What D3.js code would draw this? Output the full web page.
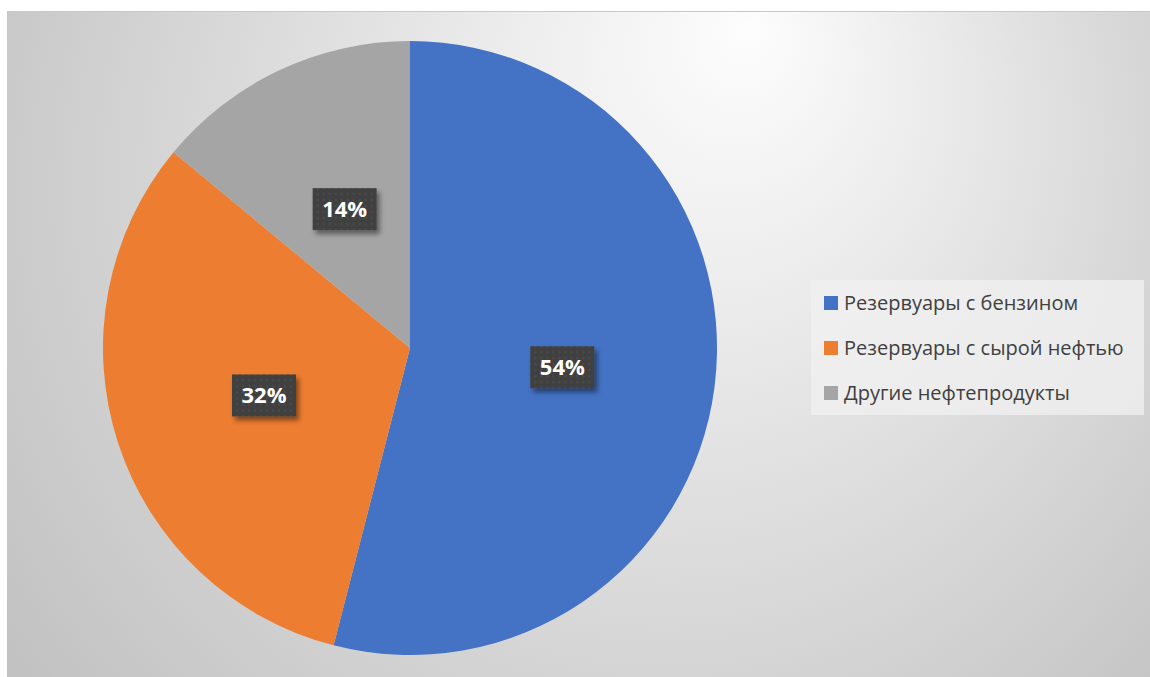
<!DOCTYPE html>
<html>
<head>
<meta charset="utf-8">
<script src="https://cdn.jsdelivr.net/npm/d3@7"></script>
<style>
  body { margin: 0; background: #fff; }
  svg { display: block; }
</style>
</head>
<body>
<svg id="chart"></svg>
<script>
const outerWidth = 1150;
const outerHeight = 677;

// data
const categories = ["Резервуары с бензином", "Резервуары с сырой нефтью", "Другие нефтепродукты"];
const shares = [54, 32, 14];
const colors = ["#4472C4", "#ED7D31", "#A5A5A5"];

const center = {x: 410, y: 348};
const radius = 307;

var svg = d3.select("#chart")
  .attr("width", outerWidth)
  .attr("height", outerHeight);

var defs = svg.append("defs");

var bg = defs.append("radialGradient")
  .attr("id", "bg")
  .attr("gradientUnits", "userSpaceOnUse")
  .attr("cx", 620).attr("cy", 230).attr("r", 740)
  .attr("fx", 750).attr("fy", 25);
bg.append("stop").attr("offset", "0%").attr("stop-color", "#fdfdfd");
bg.append("stop").attr("offset", "100%").attr("stop-color", "#c2c2c2");

var shadow = defs.append("filter").attr("id", "shadow")
  .attr("x", "-20%").attr("y", "-20%").attr("width", "150%").attr("height", "160%");
shadow.append("feDropShadow")
  .attr("dx", 3).attr("dy", 4).attr("stdDeviation", 2.5)
  .attr("flood-color", "#000").attr("flood-opacity", 0.45);

var dots = defs.append("pattern").attr("id", "dots")
  .attr("width", 6).attr("height", 6).attr("patternUnits", "userSpaceOnUse");
dots.append("rect").attr("width", 6).attr("height", 6).attr("fill", "#3f3f3f");
dots.append("circle").attr("cx", 3).attr("cy", 3).attr("r", 1.4).attr("fill", "#4a4a4a");

// chart area
svg.append("rect")
  .attr("x", 7).attr("y", 11)
  .attr("width", 1143).attr("height", 666)
  .attr("fill", "url(#bg)");
svg.append("line")
  .attr("x1", 7).attr("x2", 1150).attr("y1", 11.5).attr("y2", 11.5)
  .attr("stroke", "#c8c8c8");

var pie = d3.pie().sort(null).value(d => d);
var arc = d3.arc().innerRadius(0).outerRadius(radius);
var arcs = pie(shares);

var g = svg.append("g").attr("transform", "translate(" + center.x + "," + center.y + ")");

g.selectAll("path.slice")
  .data(arcs)
  .enter()
  .append("path")
  .attr("class", "slice")
  .attr("d", arc)
  .attr("fill", (d, i) => colors[i]);

// data labels
var labels = g.selectAll("g.label")
  .data(arcs)
  .enter()
  .append("g")
  .attr("class", "label")
  .attr("transform", d => "translate(" + arc.centroid(d) + ")");

labels.append("rect")
  .attr("x", -32).attr("y", -21)
  .attr("width", 64).attr("height", 42)
  .attr("fill", "url(#dots)")
  .attr("filter", "url(#shadow)");

labels.append("text")
  .attr("text-anchor", "middle")
  .attr("dy", "0.36em")
  .attr("fill", "#fff")
  .style("font-family", "'Open Sans', sans-serif")
  .style("font-weight", "bold")
  .style("font-size", "22px")
  .text(d => d.data + "%");

// legend
var legend = svg.append("g").attr("transform", "translate(811,280)");
legend.append("rect")
  .attr("width", 333).attr("height", 135)
  .attr("fill", "#f0f0f0").attr("opacity", 0.8);

var y = d3.scalePoint().domain(categories).range([23, 113]);

var items = legend.selectAll("g.item")
  .data(categories)
  .enter()
  .append("g")
  .attr("class", "item")
  .attr("transform", d => "translate(0," + y(d) + ")");

items.append("rect")
  .attr("x", 13).attr("y", -7)
  .attr("width", 14).attr("height", 14)
  .attr("fill", (d, i) => colors[i]);

items.append("text")
  .attr("x", 33)
  .attr("dy", "0.36em")
  .attr("fill", "#404040")
  .style("font-family", "'Open Sans', sans-serif")
  .style("font-size", "20px")
  .text(d => d);
</script>
</body>
</html>
